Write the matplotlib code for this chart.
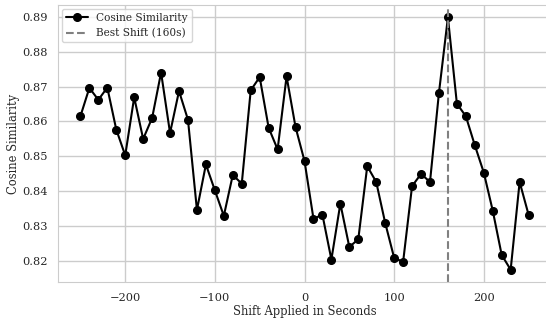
import numpy as np
import matplotlib
matplotlib.use('Agg')
import matplotlib.pyplot as plt
import seaborn as sns

# Shift values (seconds) and cosine similarity
shifts = list(range(-250, 260, 10))
similarity = [
    0.8615, 0.8696, 0.8662, 0.8697, 0.8577, 0.8503, 0.8669, 0.8550, 0.8610, 0.8740,
    0.8567, 0.8687, 0.8605, 0.8347, 0.8477, 0.8403, 0.8330, 0.8447, 0.8422, 0.8689,
    0.8727, 0.8582, 0.8520, 0.8729, 0.8584, 0.8487, 0.8322, 0.8333, 0.8205, 0.8365,
    0.8241, 0.8263, 0.8472, 0.8427, 0.8310, 0.8210, 0.8198, 0.8415, 0.8450, 0.8427,
    0.8682, 0.8898, 0.8651, 0.8615, 0.8532, 0.8454, 0.8345, 0.8218, 0.8176, 0.8427,
    0.8333,
]
best_shift = 160

sns.set_style("whitegrid")
plt.rcParams['font.family'] = ['DejaVu Serif']
plt.rcParams['grid.linewidth'] = 1.0

fig = plt.figure(figsize=(5.46, 3.22), dpi=100)
ax = fig.add_axes([58 / 546, 1 - 282.3 / 322, (551 - 58) / 546, (282.3 - 4.7) / 322])

ax.plot(shifts, similarity, 'o-', color='black', linewidth=1.5, markersize=5.5,
        label='Cosine Similarity')
ax.axvline(best_shift, color='gray', linestyle='--', linewidth=1.5,
           label=f'Best Shift ({best_shift}s)')

ax.set_xlabel('Shift Applied in Seconds', fontsize=8.3, labelpad=2)
ax.set_ylabel('Cosine Similarity', fontsize=8.3, labelpad=1.5)
ax.set_yticks(np.arange(0.82, 0.8951, 0.01))
ax.set_xticks([-200, -100, 0, 100, 200])
ax.tick_params(labelsize=8.2, pad=4)
ax.legend(loc='upper left', fontsize=7.6, handlelength=2.0, borderpad=0.4,
          labelspacing=0.45, borderaxespad=0.4)

fig.savefig('out.png', dpi=100)
